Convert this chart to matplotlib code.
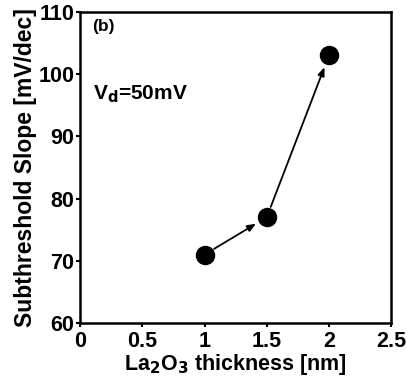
import matplotlib
matplotlib.use('Agg')
import matplotlib.pyplot as plt

thickness = [1.0, 1.5, 2.0]
slope = [71, 77, 103]
xticks = [0, 0.5, 1, 1.5, 2, 2.5]
xticklabels = ['0', '0.5', '1', '1.5', '2', '2.5']
yticks = [60, 70, 80, 90, 100, 110]
yticklabels = ['60', '70', '80', '90', '100', '110']

plt.rcParams['font.family'] = ['Liberation Sans', 'DejaVu Sans']
plt.rcParams['font.weight'] = 'bold'
plt.rcParams['mathtext.default'] = 'bf'

fig = plt.figure(figsize=(4.07, 3.85), dpi=100)
ax = fig.add_axes([0.197, 0.161, 0.764, 0.808])

ax.plot(thickness, slope, 'o', color='black', markersize=13, linestyle='none')

# arrows between the points
for i in range(len(thickness) - 1):
    ax.annotate('', xy=(thickness[i+1], slope[i+1]), xytext=(thickness[i], slope[i]),
                arrowprops=dict(arrowstyle='-|>,head_length=0.5,head_width=0.2',
                                color='black', lw=1.3, shrinkA=8, shrinkB=9))

ax.set_xlim(0, 2.5)
ax.set_ylim(60, 110)
ax.set_xticks(xticks)
ax.set_xticklabels(xticklabels, fontsize=15.5, fontweight='heavy')
ax.set_yticks(yticks)
ax.set_yticklabels(yticklabels, fontsize=15.5, fontweight='heavy')
ax.tick_params(direction='out', length=3, width=1.5, pad=1)
ax.tick_params(axis='x', pad=3)
for s in ax.spines.values():
    s.set_linewidth(1.8)

ax.set_xlabel('La$_\\mathbf{2}$O$_\\mathbf{3}$ thickness [nm]', fontsize=15.5, fontweight='bold', labelpad=0)
ax.set_ylabel('Subthreshold Slope [mV/dec]', fontsize=16.5, fontweight='bold', labelpad=1)

ax.text(0.1, 107.6, '(b)', fontsize=12.5, fontweight='bold', va='center')
ax.text(0.1, 96.8, 'V$_\\mathbf{d}$=50mV', fontsize=15, fontweight='bold', va='center')

fig.text(0.066, 0.0, 'Fig.  1  (b)', fontsize=21, fontweight='bold',
         family='Liberation Serif', va='top')

fig.savefig('out.png', dpi=100)
